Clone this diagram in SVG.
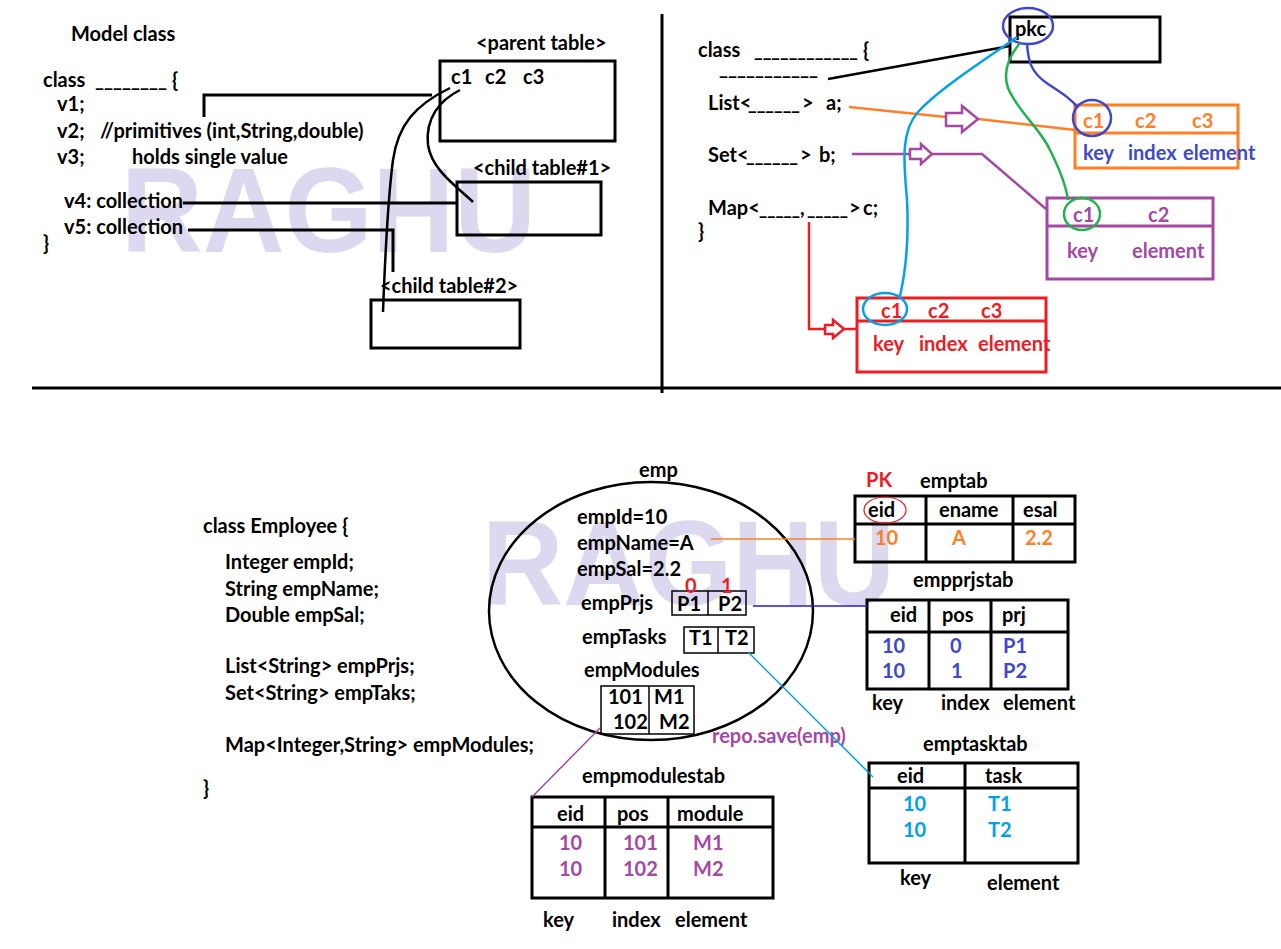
<svg xmlns="http://www.w3.org/2000/svg" width="1281" height="949" viewBox="0 0 1281 949">
  <style>
    text { font-family: Lato, "Open Sans", "Liberation Sans", sans-serif; font-weight: bold; font-size: 20px; fill: #000; }
    .wm { font-family: "Liberation Sans", Arial, sans-serif; font-weight: bold; font-size: 120px; fill: #dcd8ef; }
    .box { fill: none; stroke: #000; stroke-width: 3; }
    .blk { fill: none; stroke: #000; stroke-width: 3; }
    .org { fill: #ff7f27; }
    .ind { fill: #3f48cc; }
    .pur { fill: #a349a4; }
    .red { fill: #ed1c24; }
    .cya { fill: #00a2e8; }
  </style>
  <rect width="1281" height="949" fill="#fff"/>

  <!-- watermarks -->
  <text class="wm" x="121" y="252" textLength="415" lengthAdjust="spacingAndGlyphs">RAGHU</text>
  <text class="wm" x="482" y="605" textLength="413" lengthAdjust="spacingAndGlyphs">RAGHU</text>

  <!-- quadrant dividers -->
  <g id="dividers" stroke="#000" stroke-width="3">
    <line x1="662" y1="14" x2="662" y2="393"/>
    <line x1="32" y1="388" x2="1281" y2="388"/>
  </g>

  <!-- ===== Model class ===== -->
  <g id="model-class">
    <text x="71" y="41">Model class</text>
    <text x="43" y="87">class</text>
    <text x="95" y="87" textLength="72" lengthAdjust="spacingAndGlyphs">________</text>
    <text x="172" y="87">{</text>
    <text x="57" y="111">v1;</text>
    <text x="57" y="138">v2;</text>
    <text x="100" y="138">//primitives (int,String,double)</text>
    <text x="57" y="164">v3;</text>
    <text x="132" y="164">holds single value</text>
    <text x="64" y="208">v4: collection</text>
    <text x="64" y="234">v5: collection</text>
    <text x="43" y="250">}</text>
  </g>

  <g id="parent-table">
    <text x="476" y="50">&lt;parent table&gt;</text>
    <rect class="box" x="440" y="61" width="175" height="80"/>
    <text x="451" y="84">c1</text>
    <text x="485" y="84">c2</text>
    <text x="523" y="84">c3</text>
  </g>
  <g id="child-table-1">
    <text x="473" y="175">&lt;child table#1&gt;</text>
    <rect class="box" x="457" y="182" width="144" height="53"/>
  </g>
  <g id="child-table-2">
    <text x="380" y="293">&lt;child table#2&gt;</text>
    <rect class="box" x="371" y="300" width="149" height="48"/>
  </g>

  <!-- ===== Generic class with collections ===== -->
  <g id="generic-class">
    <text x="698" y="57">class</text>
    <text x="754" y="57" textLength="104" lengthAdjust="spacingAndGlyphs">____________</text>
    <text x="863" y="57">{</text>
    <text x="719" y="75" textLength="99" lengthAdjust="spacingAndGlyphs">___________</text>
    <text x="708" y="110">List&lt;</text>
    <text x="748" y="110" textLength="52" lengthAdjust="spacingAndGlyphs">______</text>
    <text x="802" y="110">&gt;</text>
    <text x="826" y="110">a;</text>
    <text x="708" y="162">Set&lt;</text>
    <text x="746" y="162" textLength="52" lengthAdjust="spacingAndGlyphs">______</text>
    <text x="800" y="162">&gt;</text>
    <text x="819" y="162">b;</text>
    <text x="708" y="215">Map&lt;</text>
    <text x="759" y="215" textLength="41" lengthAdjust="spacingAndGlyphs">_____</text>
    <text x="800" y="215">,</text>
    <text x="807" y="215" textLength="41" lengthAdjust="spacingAndGlyphs">_____</text>
    <text x="849" y="215">&gt;</text>
    <text x="863" y="215">c;</text>
    <text x="698" y="238">}</text>
  </g>

  <g id="pkc-table">
    <rect class="box" x="1010" y="17" width="150" height="45"/>
    <text x="1015" y="36">pkc</text>
    <ellipse cx="1028" cy="26" rx="25" ry="18" fill="none" stroke="#3f48cc" stroke-width="2.5"/>
  </g>

  <g id="list-table">
    <rect x="1075" y="105" width="163" height="63" fill="none" stroke="#ff7f27" stroke-width="3"/>
    <line x1="1075" y1="133" x2="1238" y2="133" stroke="#ff7f27" stroke-width="3"/>
    <text class="org" x="1083" y="128">c1</text>
    <text class="org" x="1135" y="128">c2</text>
    <text class="org" x="1192" y="128">c3</text>
    <text class="ind" x="1083" y="160">key</text>
    <text class="ind" x="1128" y="160">index</text>
    <text class="ind" x="1183" y="160">element</text>
    <ellipse cx="1092" cy="118" rx="19" ry="18" fill="none" stroke="#3f48cc" stroke-width="2.5"/>
  </g>

  <g id="set-table">
    <rect x="1047" y="198" width="166" height="81" fill="none" stroke="#a349a4" stroke-width="3"/>
    <line x1="1047" y1="226" x2="1213" y2="226" stroke="#a349a4" stroke-width="3"/>
    <text class="pur" x="1073" y="222">c1</text>
    <text class="pur" x="1148" y="222">c2</text>
    <text class="pur" x="1067" y="258">key</text>
    <text class="pur" x="1132" y="258">element</text>
    <ellipse cx="1082" cy="214" rx="18" ry="16" fill="none" stroke="#22b14c" stroke-width="2.5"/>
  </g>

  <g id="map-table">
    <rect x="857" y="298" width="189" height="74" fill="none" stroke="#ed1c24" stroke-width="3"/>
    <line x1="857" y1="321" x2="1046" y2="321" stroke="#ed1c24" stroke-width="3"/>
    <text class="red" x="881" y="318">c1</text>
    <text class="red" x="928" y="318">c2</text>
    <text class="red" x="981" y="318">c3</text>
    <text class="red" x="873" y="351">key</text>
    <text class="red" x="919" y="351">index</text>
    <text class="red" x="978" y="351">element</text>
    <ellipse cx="885" cy="309" rx="22" ry="16" fill="none" stroke="#00a2e8" stroke-width="2.5"/>
  </g>

  <!-- ===== Employee example ===== -->
  <g id="employee-class">
    <text x="203" y="533">class Employee {</text>
    <text x="225" y="569">Integer empId;</text>
    <text x="225" y="596">String empName;</text>
    <text x="225" y="622">Double empSal;</text>
    <text x="225" y="673">List&lt;String&gt; empPrjs;</text>
    <text x="225" y="700">Set&lt;String&gt; empTaks;</text>
    <text x="225" y="752">Map&lt;Integer,String&gt; empModules;</text>
    <text x="203" y="795">}</text>
  </g>

  <g id="emp-object">
    <text x="639" y="477">emp</text>
    <ellipse cx="651" cy="611" rx="162" ry="129" fill="none" stroke="#000" stroke-width="2.5"/>
    <text x="577" y="524">empId=10</text>
    <text x="577" y="550">empName=A</text>
    <text x="577" y="576">empSal=2.2</text>
    <text x="581" y="610">empPrjs</text>
    <rect x="672" y="591" width="74" height="24" fill="none" stroke="#000" stroke-width="1.5"/>
    <line x1="708" y1="591" x2="708" y2="615" stroke="#000" stroke-width="1.5"/>
    <text x="677" y="611">P1</text>
    <text x="718" y="611">P2</text>
    <text class="red" x="685" y="593">0</text>
    <text class="red" x="721" y="593">1</text>
    <text x="582" y="644">empTasks</text>
    <rect x="684" y="627" width="70" height="26" fill="none" stroke="#000" stroke-width="1.5"/>
    <line x1="718" y1="627" x2="718" y2="653" stroke="#000" stroke-width="1.5"/>
    <text x="689" y="645">T1</text>
    <text x="725" y="645">T2</text>
    <text x="584" y="677">empModules</text>
    <rect x="601" y="686" width="93" height="48" fill="none" stroke="#000" stroke-width="1.5"/>
    <line x1="649" y1="686" x2="649" y2="734" stroke="#000" stroke-width="1.5"/>
    <text x="608" y="704">101</text>
    <text x="654" y="704">M1</text>
    <text x="613" y="729">102</text>
    <text x="659" y="729">M2</text>
    <text class="pur" x="712" y="743">repo.save(emp)</text>
  </g>

  <g id="emptab">
    <text class="red" x="866" y="487">PK</text>
    <text x="920" y="488">emptab</text>
    <rect class="box" x="855" y="496" width="220" height="66"/>
    <line class="blk" x1="855" y1="524" x2="1075" y2="524"/>
    <line class="blk" x1="926" y1="496" x2="926" y2="562"/>
    <line class="blk" x1="1013" y1="496" x2="1013" y2="562"/>
    <text x="868" y="517">eid</text>
    <text x="939" y="517">ename</text>
    <text x="1023" y="517">esal</text>
    <text class="org" x="875" y="545">10</text>
    <text class="org" x="952" y="545">A</text>
    <text class="org" x="1025" y="545">2.2</text>
    <ellipse cx="885" cy="510" rx="21" ry="13" fill="none" stroke="#ed1c24" stroke-width="1.2"/>
  </g>

  <g id="empprjstab">
    <text x="913" y="587">empprjstab</text>
    <rect class="box" x="867" y="600" width="201" height="89"/>
    <line class="blk" x1="867" y1="632" x2="1068" y2="632"/>
    <line class="blk" x1="929" y1="600" x2="929" y2="689"/>
    <line class="blk" x1="991" y1="600" x2="991" y2="689"/>
    <text x="890" y="622">eid</text>
    <text x="942" y="622">pos</text>
    <text x="1002" y="622">prj</text>
    <text class="ind" x="882" y="653">10</text>
    <text class="ind" x="950" y="653">0</text>
    <text class="ind" x="1003" y="653">P1</text>
    <text class="ind" x="882" y="678">10</text>
    <text class="ind" x="951" y="678">1</text>
    <text class="ind" x="1003" y="678">P2</text>
    <text x="872" y="710">key</text>
    <text x="941" y="710">index</text>
    <text x="1003" y="710">element</text>
  </g>

  <g id="emptasktab">
    <text x="923" y="751">emptasktab</text>
    <rect class="box" x="869" y="763" width="209" height="100"/>
    <line class="blk" x1="869" y1="788" x2="1078" y2="788"/>
    <line class="blk" x1="965" y1="763" x2="965" y2="863"/>
    <text x="897" y="783">eid</text>
    <text x="985" y="783">task</text>
    <text class="cya" x="903" y="811">10</text>
    <text class="cya" x="988" y="811">T1</text>
    <text class="cya" x="903" y="837">10</text>
    <text class="cya" x="988" y="837">T2</text>
    <text x="900" y="885">key</text>
    <text x="987" y="890">element</text>
  </g>

  <g id="empmodulestab">
    <text x="582" y="783">empmodulestab</text>
    <rect class="box" x="532" y="797" width="241" height="101"/>
    <line class="blk" x1="532" y1="827" x2="773" y2="827"/>
    <line class="blk" x1="605" y1="797" x2="605" y2="898"/>
    <line class="blk" x1="668" y1="797" x2="668" y2="898"/>
    <text x="557" y="821">eid</text>
    <text x="617" y="821">pos</text>
    <text x="677" y="821">module</text>
    <text class="pur" x="559" y="850">10</text>
    <text class="pur" x="623" y="850">101</text>
    <text class="pur" x="693" y="850">M1</text>
    <text class="pur" x="559" y="876">10</text>
    <text class="pur" x="623" y="876">102</text>
    <text class="pur" x="693" y="876">M2</text>
    <text x="543" y="927">key</text>
    <text x="612" y="927">index</text>
    <text x="675" y="927">element</text>
  </g>

  <!-- ===== connectors ===== -->
  <g id="connectors" fill="none">
    <!-- model class to tables -->
    <polyline points="204,117 204,95 432,95" stroke="#000" stroke-width="3"/>
    <line x1="183" y1="203" x2="457" y2="203" stroke="#000" stroke-width="3"/>
    <polyline points="188,230 393,230 393,272" stroke="#000" stroke-width="3"/>
    <path d="M450,88 C415,105 398,125 393,160 C387,205 385,260 383,312" stroke="#000" stroke-width="2.5"/>
    <path d="M460,90 C440,100 425,118 428,145 C432,170 455,185 473,202" stroke="#000" stroke-width="2.5"/>

    <!-- generic class to pkc -->
    <line x1="828" y1="79" x2="1010" y2="46" stroke="#000" stroke-width="2.5"/>

    <!-- List -->
    <line x1="849" y1="107" x2="946" y2="117" stroke="#ff7f27" stroke-width="2.5"/>
    <line x1="978" y1="119" x2="1075" y2="130" stroke="#ff7f27" stroke-width="2.5"/>
    <polygon points="946,113 962,113 962,106 978,119 962,132 962,126 946,126" fill="#fff" stroke="#a349a4" stroke-width="2.5"/>

    <!-- Set -->
    <polyline points="852,154 910,154" stroke="#a349a4" stroke-width="2.5"/>
    <polyline points="932,154 982,154 1046,209" stroke="#a349a4" stroke-width="2.5"/>
    <polygon points="910,149 921,149 921,144 932,154 921,164 921,159 910,159" fill="#fff" stroke="#a349a4" stroke-width="2.5"/>

    <!-- Map -->
    <polyline points="809,222 809,329 825,329" stroke="#ed1c24" stroke-width="2.5"/>
    <line x1="844" y1="329" x2="857" y2="329" stroke="#ed1c24" stroke-width="2.5"/>
    <polygon points="825,325 833,325 833,320 844,329 833,338 833,334 825,334" fill="#fff" stroke="#ed1c24" stroke-width="2.5"/>

    <!-- key links from pkc -->
    <path d="M1027,43 C1028,60 1030,72 1048,84 C1065,95 1072,100 1078,108" stroke="#3f48cc" stroke-width="2.5"/>
    <path d="M1020,43 C1010,55 1002,70 1008,88 C1018,112 1040,128 1050,150 C1060,170 1066,185 1068,200" stroke="#22b14c" stroke-width="2.5"/>
    <path d="M1017,37 C985,60 940,88 918,112 C900,132 904,165 907,200 C909,240 906,270 900,296" stroke="#00a2e8" stroke-width="2.5"/>

    <!-- emp object to tables -->
    <line x1="711" y1="539" x2="855" y2="539" stroke="#ff7f27" stroke-width="1.3"/>
    <line x1="753" y1="606" x2="867" y2="606" stroke="#1c1cd8" stroke-width="1.3"/>
    <line x1="748" y1="652" x2="873" y2="777" stroke="#00a2e8" stroke-width="1.5"/>
    <line x1="600" y1="728" x2="532" y2="797" stroke="#a349a4" stroke-width="1.5"/>
  </g>
</svg>
